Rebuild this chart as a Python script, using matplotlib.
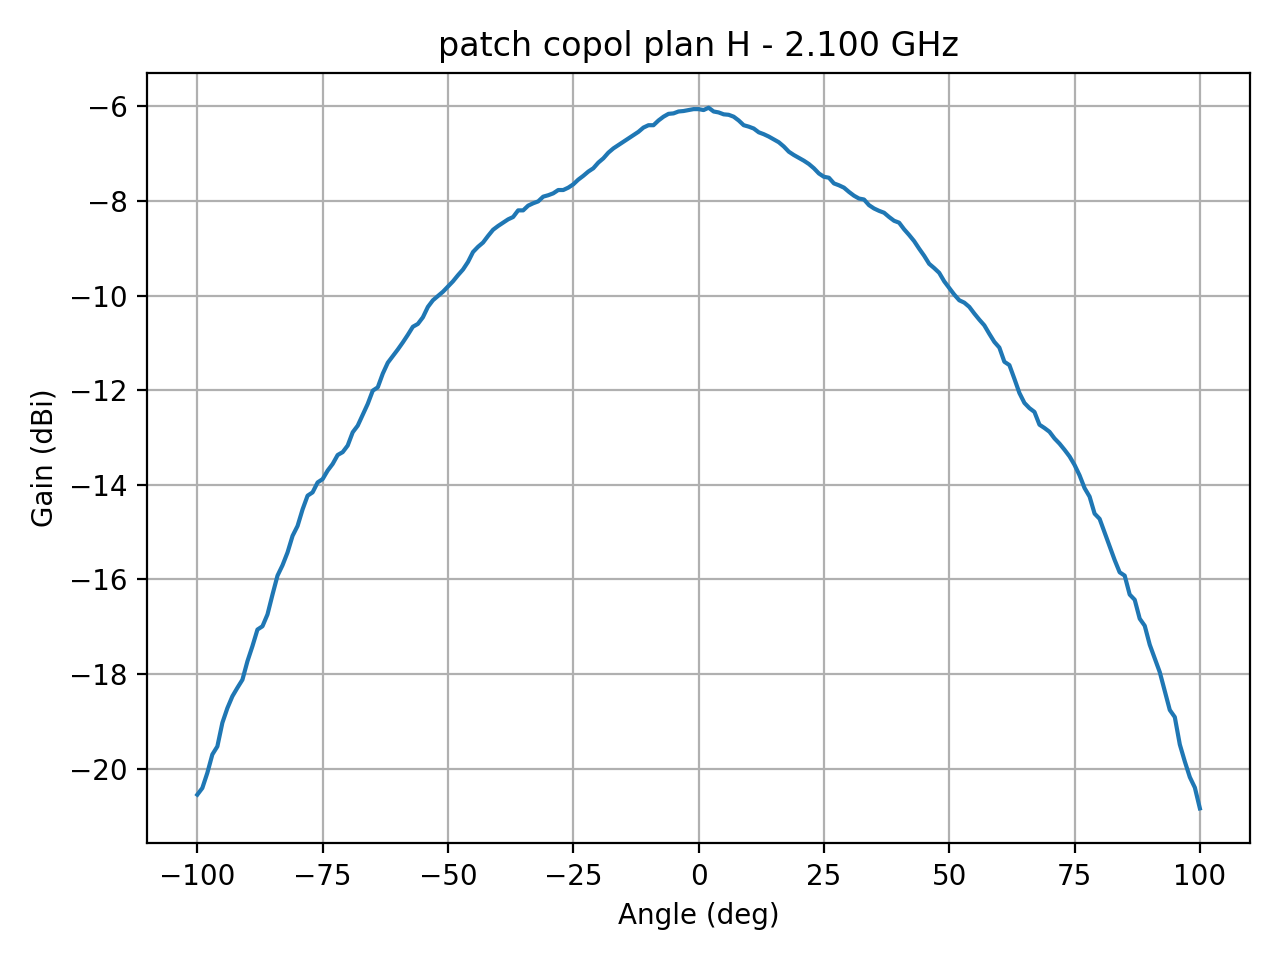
import numpy as np
import matplotlib
matplotlib.use("Agg")
import matplotlib.pyplot as plt

# measured co-polar gain, plan H, 1 deg steps from -100 to 100
angles = np.arange(-100, 101)
gain = [
    -20.55, -20.41, -20.09, -19.70, -19.53, -19.03, -18.72, -18.47, -18.29, -18.12,
    -17.73, -17.41, -17.06, -16.99, -16.74, -16.32, -15.92, -15.70, -15.43, -15.08,
    -14.87, -14.52, -14.23, -14.16, -13.95, -13.88, -13.70, -13.56, -13.37, -13.31,
    -13.17, -12.89, -12.75, -12.52, -12.29, -12.01, -11.94, -11.65, -11.42, -11.28,
    -11.14, -10.99, -10.83, -10.66, -10.60, -10.46, -10.24, -10.10, -10.01, -9.92,
    -9.81, -9.70, -9.57, -9.45, -9.29, -9.08, -8.97, -8.88, -8.74, -8.61,
    -8.53, -8.46, -8.39, -8.34, -8.20, -8.20, -8.10, -8.05, -8.01, -7.91,
    -7.88, -7.84, -7.77, -7.77, -7.72, -7.65, -7.55, -7.47, -7.38, -7.31,
    -7.19, -7.10, -6.98, -6.89, -6.82, -6.75, -6.68, -6.61, -6.54, -6.45,
    -6.40, -6.40, -6.30, -6.22, -6.16, -6.15, -6.11, -6.10, -6.08, -6.06,
    -6.06, -6.08, -6.03, -6.11, -6.13, -6.17, -6.18, -6.22, -6.30, -6.40,
    -6.43, -6.47, -6.55, -6.59, -6.64, -6.70, -6.76, -6.85, -6.96, -7.03,
    -7.09, -7.15, -7.22, -7.31, -7.42, -7.49, -7.51, -7.63, -7.67, -7.72,
    -7.81, -7.89, -7.95, -7.97, -8.09, -8.16, -8.21, -8.25, -8.34, -8.42,
    -8.46, -8.60, -8.72, -8.85, -9.01, -9.16, -9.33, -9.42, -9.52, -9.70,
    -9.84, -9.98, -10.10, -10.15, -10.24, -10.38, -10.51, -10.63, -10.81, -10.98,
    -11.10, -11.40, -11.47, -11.76, -12.06, -12.27, -12.38, -12.46, -12.73, -12.80,
    -12.88, -13.02, -13.13, -13.26, -13.40, -13.58, -13.80, -14.07, -14.25, -14.61,
    -14.72, -15.01, -15.30, -15.59, -15.85, -15.92, -16.32, -16.43, -16.83, -16.98,
    -17.38, -17.67, -17.96, -18.36, -18.76, -18.91, -19.49, -19.85, -20.18, -20.40,
    -20.84,
]

title = "patch copol plan H - 2.100 GHz"

fig, ax = plt.subplots(figsize=(6.4, 4.8), dpi=200)
ax.plot(angles, gain)
ax.set_xlabel("Angle (deg)")
ax.set_ylabel("Gain (dBi)")
ax.set_title(title)
ax.grid(True)
plt.tight_layout()
plt.savefig("out.png", dpi=200)
